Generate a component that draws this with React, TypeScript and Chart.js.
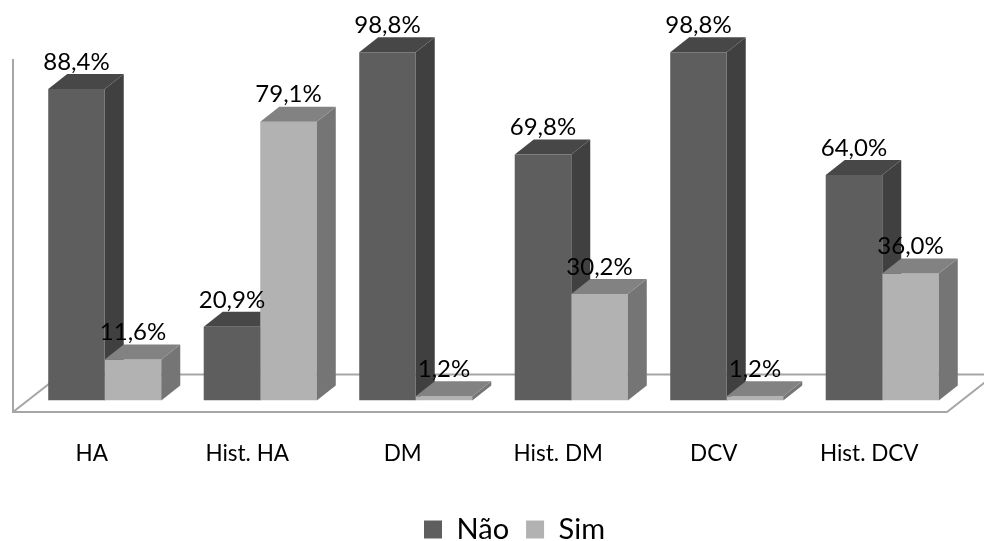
import { useEffect, useRef } from "react";
import { Chart, registerables } from "chart.js";

Chart.register(...registerables);

const categories = ["HA", "Hist. HA", "DM", "Hist. DM", "DCV", "Hist. DCV"];
const naoValues = [88.4, 20.9, 98.8, 69.8, 98.8, 64.0];
const simValues = [11.6, 79.1, 1.2, 30.2, 1.2, 36.0];

const FONT = "Lato, 'Open Sans', sans-serif";
const DX = 19;
const DY = 15;
const faces = [
  { front: "#5e5e5e", top: "#474747", side: "#404040" },
  { front: "#b2b2b2", top: "#828282", side: "#757575" },
];

function face(ctx: CanvasRenderingContext2D, pts: number[][], color: string) {
  ctx.beginPath();
  pts.forEach(([x, y], i) => (i ? ctx.lineTo(x, y) : ctx.moveTo(x, y)));
  ctx.closePath();
  ctx.fillStyle = color;
  ctx.fill();
}

function drawBox(chart: any, d: number, i: number) {
  const bar = chart.getDatasetMeta(d).data[i];
  const l = bar.x - bar.width / 2;
  const r = bar.x + bar.width / 2;
  const t = bar.y;
  const b = bar.base;
  const c = faces[d];
  const ctx = chart.ctx;
  face(ctx, [[r, t], [r + DX, t - DY], [r + DX, b - DY], [r, b]], c.side);
  face(ctx, [[l, t], [l + DX, t - DY], [r + DX, t - DY], [r, t]], c.top);
}

const box3d = {
  id: "box3d",
  afterLayout(chart: any) {
    const lg = chart.legend;
    lg.top += 13;
    lg.bottom += 13;
    lg.left += 21;
    lg.right += 21;
  },
  beforeDatasetsDraw(chart: any) {
    const ctx = chart.ctx;
    const base = chart.scales.y.getPixelForValue(0);
    const frontY = base + 11.5;
    const backY = base - 26;
    const left = chart.chartArea.left - 14;
    const right = chart.chartArea.right - 13;
    ctx.save();
    ctx.strokeStyle = "#a6a6a6";
    ctx.lineWidth = 2;
    ctx.beginPath();
    ctx.moveTo(left, 59);
    ctx.lineTo(left, frontY);
    ctx.lineTo(right, frontY);
    ctx.lineTo(right + 48, backY);
    ctx.moveTo(left, frontY);
    ctx.lineTo(left + 48, backY);
    ctx.lineTo(right + 48, backY);
    ctx.stroke();
    ctx.restore();
    categories.forEach((_, i) => drawBox(chart, 0, i));
  },
  afterDatasetsDraw(chart: any) {
    const ctx = chart.ctx;
    categories.forEach((_, i) => drawBox(chart, 1, i));
    ctx.save();
    ctx.font = `24px ${FONT}`;
    ctx.fillStyle = "#000";
    ctx.textAlign = "center";
    ctx.textBaseline = "middle";
    [naoValues, simValues].forEach((vals, d) => {
      vals.forEach((v, i) => {
        const bar = chart.getDatasetMeta(d).data[i];
        ctx.fillText(`${v.toFixed(1).replace(".", ",")}%`, bar.x, bar.y - 27);
      });
    });
    ctx.restore();
  },
};

export default function App() {
  const ref = useRef<HTMLCanvasElement>(null);
  useEffect(() => {
    const chart = new Chart(ref.current as HTMLCanvasElement, {
      type: "bar",
      data: {
        labels: categories,
        datasets: [
          { label: "Não", data: naoValues, backgroundColor: faces[0].front, barPercentage: 1, categoryPercentage: 0.727 },
          { label: "Sim", data: simValues, backgroundColor: faces[1].front, barPercentage: 1, categoryPercentage: 0.727 },
        ],
      },
      options: {
        animation: false,
        responsive: false,
        layout: { padding: { left: 27, right: 24, top: 48, bottom: 0 } },
        scales: {
          x: {
            grid: { display: false },
            border: { display: false },
            afterFit: (s: any) => { s.height = 84.5; },
            ticks: { color: "#000", font: { family: FONT, size: 22.5 }, padding: 32, labelOffset: -13, maxRotation: 0 },
          },
          y: { display: false, min: 0, max: 100 },
        },
        plugins: {
          tooltip: { enabled: false },
          legend: {
            position: "bottom",
            labels: { color: "#000", font: { family: FONT, size: 29 }, boxWidth: 18, boxHeight: 18, padding: 17 },
          },
        },
      },
      plugins: [box3d],
    } as any);
    return () => chart.destroy();
  }, []);
  return (
    <div style={{ position: "fixed", left: 0, top: 0, width: 984, height: 541, background: "#fff" }}>
      <canvas ref={ref} width={984} height={541} style={{ display: "block" }} />
    </div>
  );
}
